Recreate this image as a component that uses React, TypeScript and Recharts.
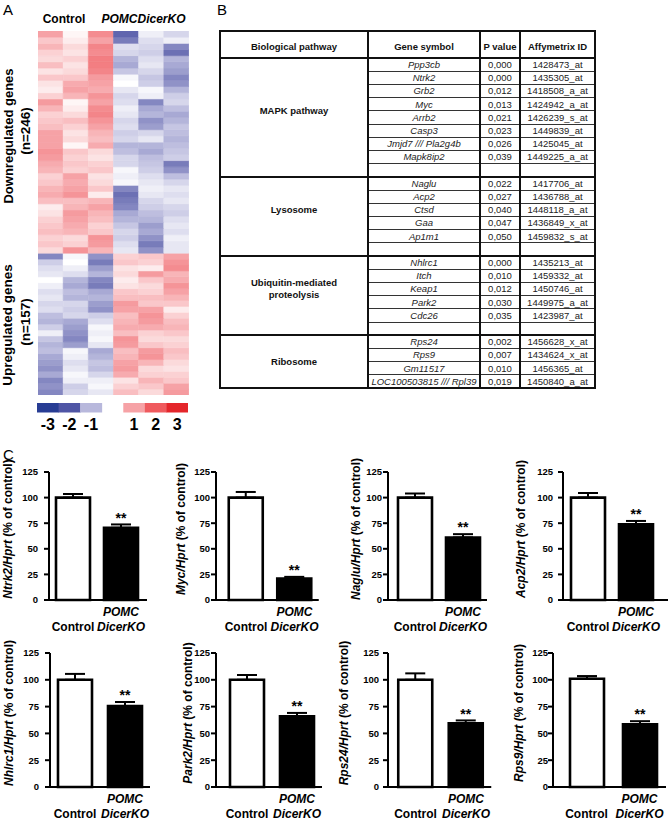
import React from 'react'
import { BarChart, Bar, XAxis, YAxis, Cell, ErrorBar, LabelList } from 'recharts'

const FONT = "'Liberation Sans', Arial, Helvetica, sans-serif"

// ---------- A: heatmap (z-scores per block of genes, top to bottom) ----------
const SAMPLES = ['Control 1', 'Control 2', 'Control 3', 'POMCDicerKO 1', 'POMCDicerKO 2', 'POMCDicerKO 3']
const DOWN_COUNT = 246
const UP_COUNT = 157

const DOWN_HEAT = [
  [1.0, 0.6, 0.8, 0.5, 0.4, 0.7, 0.3, 0.6, 0.3, 0.2, 0.5, 1.1, 0.8, 0.5, 0.6, 0.7, 1.0, 1.0, 1.0, 1.2, 1.1, 0.9, 0.8, 0.5, 0.6, 0.8, 0.9, 0.7, 0.2, 0.3, 0.5, 0.6, 0.7, 0.5, 0.6, 0.4],
  [0.1, 0.2, 0.4, 0.3, 0.5, 0.3, 0.4, 0.6, 0.9, 1.0, 0.8, 0.1, 0.2, 0.4, 0.7, 0.5, 0.3, 0.4, 0.1, 0.6, 0.5, 0.6, 0.5, 1.0, 0.9, 1.0, 1.2, 0.7, 0.8, 1.1, 1.0, 0.9, 0.8, 0.4, 0.5, 1.2],
  [1.3, 1.0, 1.4, 1.3, 1.5, 1.5, 1.4, 1.1, 1.0, 0.9, 1.2, 1.0, 1.3, 1.4, 1.2, 1.0, 0.8, 0.7, 0.9, 0.4, 0.3, 0.5, 0.6, 0.3, 0.4, 0.6, 0.2, 0.8, 1.0, 0.8, 0.7, 0.5, 0.6, 1.2, 1.1, 0.8],
  [-1.6, -1.4, -0.4, -0.5, -0.9, -1.0, -0.7, -0.1, 0.0, -0.3, -0.5, -0.4, -0.2, -0.3, -0.5, -0.4, -0.6, -0.5, -0.9, -0.8, -0.5, -0.5, -0.1, -0.2, -0.1, -1.3, -1.5, -1.4, -1.3, -1.0, -0.9, -0.7, -0.5, -0.6, -0.4, -0.3],
  [-0.2, -0.4, -0.5, -0.6, -0.4, -0.3, -0.5, -0.7, -0.6, -0.1, -0.2, -1.3, -1.0, -0.9, -1.2, -1.1, -0.5, -0.3, -0.9, -1.0, -0.8, -0.7, -0.6, -0.4, -0.3, -0.2, -0.3, -0.5, -0.6, -0.8, -0.9, -1.1, -1.0, -1.2, -1.4, -1.2],
  [-0.5, -0.2, -1.3, -1.5, -0.9, -1.0, -1.1, -1.3, -1.2, -0.9, -0.6, -0.5, -0.8, -1.0, -0.9, -0.7, -0.8, -0.9, -0.8, -0.7, -0.6, -1.4, -1.2, -0.8, -0.5, -0.3, -0.4, -0.3, -0.5, -0.6, -0.4, -0.3, -0.4, -0.2, -0.3, -0.3],
]

const UP_HEAT = [
  [-1.3, -0.6, -0.4, -0.3, 0.0, -0.2, -0.4, -0.3, -0.5, -0.4, -0.8, -0.9, -0.6, -0.2, -0.7, -0.9, -0.8, -1.0, -1.1, -1.2, -1.0, -1.3, -1.2, -1.3],
  [-0.1, 0.0, -0.2, -0.4, -0.9, -1.0, -0.8, -0.9, -0.5, -0.6, -0.5, -1.0, -1.1, -1.2, -1.3, -1.1, -0.1, -0.2, -0.4, -0.3, -0.1, -0.2, -0.6, -0.5],
  [-1.2, -1.4, -1.1, -0.9, -1.3, -1.4, -1.0, -0.9, -1.1, -1.2, -0.6, -0.4, -0.1, -0.2, -0.1, -0.3, -1.0, -0.9, -0.7, -0.8, -0.5, -0.2, -0.1, -0.3],
  [0.5, 0.6, 0.3, 0.4, 0.2, 0.3, 0.6, 0.7, 1.1, 1.0, 0.7, 0.8, 0.9, 0.7, 1.2, 1.1, 0.7, 0.8, 1.0, 1.1, 0.9, 0.3, 0.5, 0.7],
  [0.6, 0.5, 0.2, 1.1, 0.6, 0.4, 0.5, 0.7, 0.6, 1.0, 1.2, 1.1, 0.9, 0.5, 0.4, 0.6, 1.1, 1.2, 0.8, 0.4, 0.5, 0.8, 0.6, 0.4],
  [1.0, 1.2, 1.3, 0.8, 0.9, 1.2, 1.0, 0.8, 0.6, 0.2, 0.5, 0.7, 0.8, 0.6, 0.4, 0.5, 0.7, 0.6, 0.4, 0.3, 0.5, 0.6, 1.0, 1.1],
]

const SCALE_STEPS = [-3, -2, -1, 0, 1, 2, 3]

// ---------- B: pathway table ----------
const PATHWAYS = ['MAPK pathway', 'Lysosome', 'Ubiquitin-mediated\nproteolysis', 'Ribosome']
const PATHWAY_GENES = [
  ['Ppp3cb', 'Ntrk2', 'Grb2', 'Myc', 'Arrb2', 'Casp3', 'Jmjd7 /// Pla2g4b', 'Mapk8ip2'],
  ['Naglu', 'Acp2', 'Ctsd', 'Gaa', 'Ap1m1'],
  ['Nhlrc1', 'Itch', 'Keap1', 'Park2', 'Cdc26'],
  ['Rps24', 'Rps9', 'Gm11517', 'LOC100503815 /// Rpl39'],
]
const PATHWAY_P = [
  ['0,000', '0,000', '0,012', '0,013', '0,021', '0,023', '0,026', '0,039'],
  ['0,022', '0,027', '0,040', '0,047', '0,050'],
  ['0,000', '0,010', '0,012', '0,030', '0,035'],
  ['0,002', '0,007', '0,010', '0,019'],
]
const PATHWAY_IDS = [
  ['1428473_at', '1435305_at', '1418508_a_at', '1424942_a_at', '1426239_s_at', '1449839_at', '1425045_at', '1449225_a_at'],
  ['1417706_at', '1436788_at', '1448118_a_at', '1436849_x_at', '1459832_s_at'],
  ['1435213_at', '1459332_at', '1450746_at', '1449975_a_at', '1423987_at'],
  ['1456628_x_at', '1434624_x_at', '1456365_at', '1450840_a_at'],
]
const PATHWAY_SPARE = [true, true, true, false]
const TABLE_HEAD = ['Biological pathway', 'Gene symbol', 'P value', 'Affymetrix ID']

// ---------- C: qPCR bars ----------
const GENES = ['Ntrk2', 'Myc', 'Naglu', 'Acp2', 'Nhlrc1', 'Park2', 'Rps24', 'Rps9']
const GROUPS = ['Control', 'POMC DicerKO']
const CONTROL_MEAN = [100, 100, 100, 100, 100, 100, 100, 101]
const CONTROL_SEM = [3.5, 5.5, 4, 4.5, 5.5, 4.5, 6, 2.5]
const KO_MEAN = [70.5, 21, 61, 74, 75.5, 66, 59.5, 58.5]
const KO_SEM = [3.3, 1.6, 3.3, 3.2, 3.8, 3.1, 2.6, 2.9]
const KO_SIG = ['**', '**', '**', '**', '**', '**', '**', '**']
const Y_TICKS = [0, 25, 50, 75, 100, 125]

// layout only
const Y_W = 56
const ROW_LAYOUT = [
  { top: 440, marginTop: 32, plotH: 128, xAxisH: 42, labelDy: -7 },
  { top: 625, marginTop: 28, plotH: 134, xAxisH: 34, labelDy: -7 },
]
const CHART_LAYOUT = [
  { row: 0, axisX: 49, band: 48, padL: 0, padR: 2, labelOff: 41.5, tickGap: 11 },
  { row: 0, axisX: 216, band: 48.5, padL: 5.75, padR: 0, labelOff: 35, tickGap: 6 },
  { row: 0, axisX: 388, band: 48, padL: 3, padR: 0, labelOff: 32, tickGap: 6 },
  { row: 0, axisX: 563, band: 48, padL: 1, padR: 8, labelOff: 42, tickGap: 10 },
  { row: 1, axisX: 50, band: 50, padL: 0, padR: 0, labelOff: 41, tickGap: 11 },
  { row: 1, axisX: 216, band: 50, padL: 6, padR: 0, labelOff: 28.5, tickGap: 6 },
  { row: 1, axisX: 388, band: 50.5, padL: 2.25, padR: 0, labelOff: 44.5, tickGap: 9 },
  { row: 1, axisX: 553, band: 53, padL: 7, padR: 0, labelOff: 34.5, tickGap: 5 },
]

const POS_STOPS = ['#ffffff', '#f6a2a6', '#ef5a5e', '#e4262b']
const NEG_STOPS = ['#ffffff', '#b8b8dc', '#4f55a5', '#283d94']

function hexRgb(c: string) {
  return [1, 3, 5].map((i) => parseInt(c.slice(i, i + 2), 16))
}

function heatColor(v: number) {
  const stops = v >= 0 ? POS_STOPS : NEG_STOPS
  const a = Math.min(Math.abs(v), 2.999)
  const i = Math.floor(a)
  const t = a - i
  const p = hexRgb(stops[i])
  const q = hexRgb(stops[i + 1])
  return `rgb(${p.map((x, k) => Math.round(x + (q[k] - x) * t)).join(',')})`
}

// the blue side of the printed heatmap reads a bit darker than its legend
const cellColor = (v: number) => heatColor(v < 0 ? v * 1.15 : v)

function Heatmap() {
  const downSize = DOWN_COUNT / DOWN_HEAT[0].length
  const upSize = UP_COUNT / UP_HEAT[0].length
  const blocks = [
    ...DOWN_HEAT[0].map((_, i) => ({ key: `d${i}`, size: downSize, vals: DOWN_HEAT.map((col) => col[i]) })),
    ...UP_HEAT[0].map((_, i) => ({ key: `u${i}`, size: upSize, vals: UP_HEAT.map((col) => col[i]) })),
  ]
  const data = SAMPLES.map((s) => {
    const row: any = { sample: s }
    blocks.forEach((b) => (row[b.key] = b.size))
    return row
  })
  // stack grows upward, so the bottom block goes first
  const stack = [...blocks].reverse()
  return (
    <BarChart width={151} height={364} data={data} margin={{ top: 0, right: 0, bottom: 0, left: 0 }} barCategoryGap={0} barGap={0}>
      <XAxis dataKey="sample" hide />
      <YAxis hide domain={[0, DOWN_COUNT + UP_COUNT]} allowDataOverflow />
      {stack.map((b) => (
        <Bar key={b.key} dataKey={b.key} stackId="heat" isAnimationActive={false}>
          {b.vals.map((v, c) => (
            <Cell key={c} fill={cellColor(v)} stroke={cellColor(v)} strokeWidth={0.6} />
          ))}
        </Bar>
      ))}
    </BarChart>
  )
}

function ScaleLegend() {
  const data = SCALE_STEPS.map((s) => ({ step: s, h: s === 0 ? 0 : 1 }))
  return (
    <BarChart width={151} height={32} data={data} margin={{ top: 0, right: 0, bottom: 0, left: 0 }} barCategoryGap={0}>
      <XAxis
        dataKey="step"
        height={22.5}
        axisLine={false}
        tickLine={false}
        tickSize={0}
        tickMargin={0}
        interval={0}
        tick={(p: any) =>
          p.payload.value === 0 ? (
            <g />
          ) : (
            <text x={p.x} y={p.y + 17.5} textAnchor="middle" fontSize={16} fontWeight="bold" fontFamily={FONT} fill="#000">
              {p.payload.value}
            </text>
          )
        }
      />
      <YAxis hide domain={[0, 1]} />
      <Bar dataKey="h" isAnimationActive={false}>
        {data.map((d, i) => (
          <Cell key={i} fill={heatColor(d.step)} />
        ))}
      </Bar>
    </BarChart>
  )
}

function PathwayTable() {
  const cols = [0, 148, 260, 300, 375]
  const headH = 27
  const rowH = 13.2
  const W = cols[4]
  const items: any[] = []
  let r = 0
  const line = (key: string, x1: number, x2: number, y: number, t: number, color = '#111') =>
    items.push(<div key={key} style={{ position: 'absolute', left: x1, width: x2 - x1, top: y - t / 2, height: t, background: color }} />)

  PATHWAYS.forEach((name, g) => {
    const n = PATHWAY_GENES[g].length
    const total = n + (PATHWAY_SPARE[g] ? 1 : 0)
    const y0 = headH + r * rowH
    if (g > 0) line(`g${g}`, 0, W, y0, 2)
    items.push(
      <div
        key={`p${g}`}
        style={{
          position: 'absolute', left: 0, width: cols[1], top: y0, height: n * rowH,
          display: 'flex', alignItems: 'center', justifyContent: 'center',
          whiteSpace: 'pre-line', textAlign: 'center', fontWeight: 'bold', fontSize: 9.5, lineHeight: '12px', color: '#111',
        }}
      >
        {name}
      </div>
    )
    for (let k = 0; k < total; k++) {
      const y = y0 + k * rowH
      if (k > 0) line(`l${g}-${k}`, cols[1], W, y, 1, '#333')
      if (k < n) {
        const cells = [PATHWAY_GENES[g][k], PATHWAY_P[g][k], PATHWAY_IDS[g][k]]
        cells.forEach((txt, c) =>
          items.push(
            <div
              key={`c${g}-${k}-${c}`}
              style={{
                position: 'absolute', left: cols[c + 1], width: cols[c + 2] - cols[c + 1], top: y, height: rowH,
                lineHeight: `${rowH}px`, textAlign: 'center', fontSize: 9.5, color: '#222',
                fontStyle: c === 0 ? 'italic' : 'normal', whiteSpace: 'nowrap',
              }}
            >
              {txt}
            </div>
          )
        )
      }
    }
    r += total
  })
  const H = headH + r * rowH
  line('head', 0, W, headH, 2)
  cols.slice(1, 4).forEach((x, i) =>
    items.push(<div key={`v${i}`} style={{ position: 'absolute', left: x - 1, width: 2, top: 0, height: H, background: '#111' }} />)
  )
  return (
    <div style={{ position: 'absolute', left: 220, top: 31, width: W, height: H, fontFamily: FONT }}>
      {TABLE_HEAD.map((h, c) => (
        <div
          key={h}
          style={{
            position: 'absolute', left: cols[c], width: cols[c + 1] - cols[c], top: 3, height: headH - 3,
            display: 'flex', alignItems: 'center', justifyContent: 'center', fontWeight: 'bold', fontSize: 9.5, color: '#111',
          }}
        >
          {h}
        </div>
      ))}
      {items}
      <div style={{ position: 'absolute', left: -1, top: -1, width: W + 2, height: H + 2, border: '2px solid #111', boxSizing: 'border-box' }} />
    </div>
  )
}

const GroupTick = (p: any) => {
  const words = String(p.payload.value).split(' ')
  const ko = words.length > 1
  const common = { x: p.x, textAnchor: 'middle' as const, fontSize: 12, fontWeight: 'bold', fontFamily: FONT, fill: '#000' }
  return (
    <g>
      {ko && (
        <text {...common} y={p.y + 15.5} fontStyle="italic">
          {words[0]}
        </text>
      )}
      <text {...common} y={p.y + 31} fontStyle={ko ? 'italic' : 'normal'}>
        {ko ? words[1] : words[0]}
      </text>
    </g>
  )
}

function GeneChart({ i }: { i: number }) {
  const lay = CHART_LAYOUT[i]
  const row = ROW_LAYOUT[lay.row]
  const data = GROUPS.map((g, j) => ({
    group: g,
    value: j === 0 ? CONTROL_MEAN[i] : KO_MEAN[i],
    sem: [0, j === 0 ? CONTROL_SEM[i] : KO_SEM[i]],
    sig: j === 0 ? '' : KO_SIG[i],
  }))
  const plotW = lay.padL + 2 * lay.band + lay.padR
  const width = Y_W + plotW + 2
  const height = row.marginTop + row.plotH + row.xAxisH
  const lx = Y_W - lay.labelOff
  const ly = row.marginTop + row.plotH / 2 + row.labelDy
  const axisStyle = { stroke: '#000', strokeWidth: 2 }

  return (
    <div style={{ position: 'absolute', left: lay.axisX - Y_W, top: row.top }}>
      <BarChart width={width} height={height} data={data} margin={{ top: row.marginTop, right: 2, bottom: 0, left: 0 }} barSize={34}>
        <XAxis
          dataKey="group"
          height={row.xAxisH}
          padding={{ left: lay.padL, right: lay.padR }}
          axisLine={axisStyle}
          tickLine={false}
          tickSize={0}
          tickMargin={0}
          interval={0}
          tick={GroupTick}
        />
        <YAxis
          width={Y_W}
          domain={[0, 125]}
          ticks={Y_TICKS}
          interval={0}
          axisLine={axisStyle}
          tickLine={axisStyle}
          tickSize={5}
          tickMargin={Math.max(0, lay.tickGap - 5)}
          tick={{ fontSize: 9.5, fontWeight: 'bold', fill: '#000', fontFamily: FONT }}
          label={{
            content: () => (
              <text
                x={lx}
                y={ly}
                transform={`rotate(-90 ${lx} ${ly})`}
                textAnchor="middle"
                dominantBaseline="central"
                fontSize={12}
                fontWeight="bold"
                fontFamily={FONT}
                fill="#000"
              >
                <tspan fontStyle="italic">{GENES[i]}/Hprt</tspan>
                <tspan>{' (% of control)'}</tspan>
              </text>
            ),
          }}
        />
        <Bar dataKey="value" isAnimationActive={false} stroke="#000" strokeWidth={2.6}>
          {data.map((_, j) => (
            <Cell key={j} fill={j === 0 ? '#fff' : '#000'} />
          ))}
          <ErrorBar dataKey="sem" width={10} stroke="#000" strokeWidth={2} direction="y" />
          <LabelList
            dataKey="sig"
            content={(p: any) => {
              const d = data[p.index]
              if (!d || !d.sig) return null
              const vb = p.viewBox || p
              const bx = vb.x ?? p.x
              const by = vb.y ?? p.y
              const bw = vb.width ?? p.width
              const bh = vb.height ?? p.height
              const capY = by - d.sem[1] * (bh / d.value)
              return (
                <text x={bx + bw / 2} y={capY - 1.7} textAnchor="middle" fontSize={14} fontWeight="bold" fontFamily={FONT} fill="#000">
                  {d.sig}
                </text>
              )
            }}
          />
        </Bar>
      </BarChart>
    </div>
  )
}

function Captions() {
  const bold = { fontFamily: FONT, fontWeight: 'bold' as const, fill: '#000' }
  const rot = (x: number, y: number) => `rotate(-90 ${x} ${y})`
  return (
    <svg width={672} height={821} style={{ position: 'absolute', left: 0, top: 0 }}>
      <text x={3} y={14.5} fontSize={15} fontFamily={FONT}>A</text>
      <text x={217} y={14.5} fontSize={15} fontFamily={FONT}>B</text>
      <text x={3} y={460} fontSize={15} fontFamily={FONT}>C</text>
      <text x={64} y={23} fontSize={12} textAnchor="middle" {...bold}>Control</text>
      <text x={143.5} y={23} fontSize={12} textAnchor="middle" fontStyle="italic" {...bold}>POMCDicerKO</text>
      <text x={13} y={136} fontSize={13} textAnchor="middle" transform={rot(13, 136)} {...bold}>Downregulated genes</text>
      <text x={30.3} y={131} fontSize={13.5} textAnchor="middle" transform={rot(30.3, 131)} {...bold}>(n={DOWN_COUNT})</text>
      <text x={12} y={325} fontSize={13.5} textAnchor="middle" transform={rot(12, 325)} {...bold}>Upregulated genes</text>
      <text x={30.3} y={322} fontSize={13.5} textAnchor="middle" transform={rot(30.3, 322)} {...bold}>(n={UP_COUNT})</text>
    </svg>
  )
}

export default function App() {
  return (
    <div style={{ position: 'absolute', left: 0, top: 0, width: 672, height: 821, background: '#fff', overflow: 'hidden', fontFamily: FONT }}>
      <Captions />
      <div style={{ position: 'absolute', left: 37.7, top: 30.7 }}>
        <Heatmap />
      </div>
      <div style={{ position: 'absolute', left: 37, top: 403 }}>
        <ScaleLegend />
      </div>
      <PathwayTable />
      {GENES.map((g, i) => (
        <GeneChart key={g} i={i} />
      ))}
    </div>
  )
}
